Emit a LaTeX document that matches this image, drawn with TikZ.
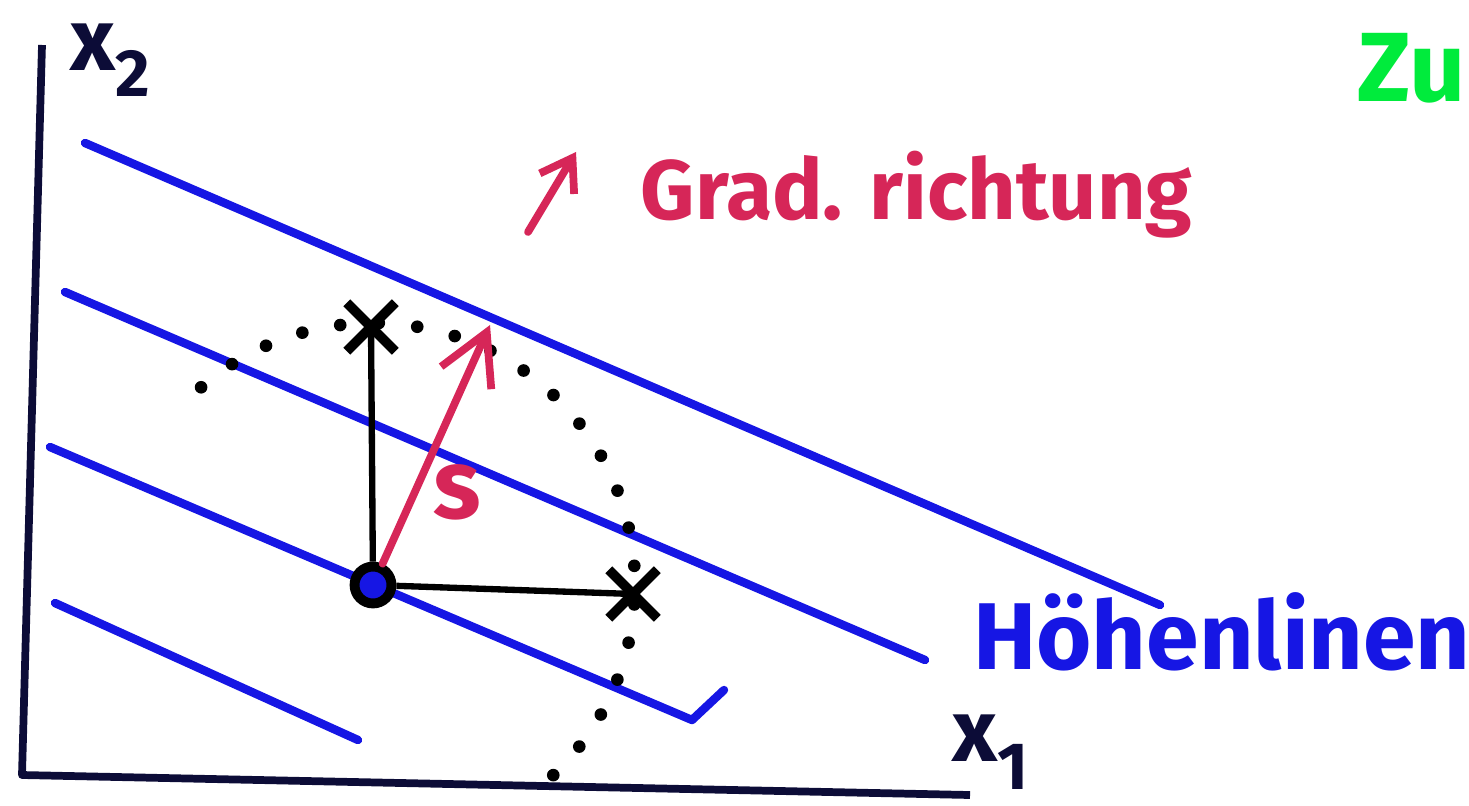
\documentclass[tikz,border=0pt]{standalone}
\usepackage{fontspec}
\setmainfont{Fira Sans}
\usetikzlibrary{shapes.misc,arrows.meta}
\definecolor{hlblau}{RGB}{22,22,228}
\definecolor{gradrot}{RGB}{214,38,88}
\definecolor{achse}{RGB}{12,12,55}
\definecolor{zugruen}{RGB}{0,235,60}
\tikzset{
  hoehenlinie/.style={hlblau, line width=2.4pt, line cap=round},
  kreuz/.style={cross out, draw=black, line width=2.8pt, minimum size=11pt, inner sep=0pt},
  handschrift/.style={font=\fontsize{#1}{#1}\selectfont\bfseries, inner sep=0pt},
  rotpfeil/.style={gradrot, line width=2.2pt, line cap=round,
    -{Straight Barb[length=5mm,width=5.5mm,line width=2.2pt]}},
}
\begin{document}
\begin{tikzpicture}[x=0.1mm,y=-0.1mm]
        \useasboundingbox (0,0) rectangle (1469,805);
        \clip (0,0) rectangle (1469,805);
        % Achsen
        \draw [achse, line width=2.2pt, line join=round] (42,45) -- (22,775) -- (970,795);
        \path (110,60) node [achse, handschrift=25] (xzwei) {x\raisebox{-0.55ex}{\fontsize{19}{19}\selectfont 2}};
        \path (990,752) node [achse, handschrift=25] (xeins) {x\raisebox{-0.6ex}{\fontsize{19}{19}\selectfont 1}};

        % Hoehenlinien
        \draw [hoehenlinie] (85,143) -- (1160,605);
        \draw [hoehenlinie] (65,292) -- (925,660);
        \draw [hoehenlinie, line join=round] (50,447) -- (692,720) -- (724,690);
        \draw [hoehenlinie] (55,603) -- (358,740);
        \path (1222,632) node [hlblau, handschrift=27] (hoehen) {Höhenlinen};

        % Einheitskreis
        \node (O) at (373,585) [circle, draw=black, fill=hlblau, line width=2.8pt, minimum size=10.5pt, inner sep=0pt] {};
        \draw [black, line width=3.6pt, line cap=round, dash pattern=on 0pt off 11pt]
            (O) ++(-131:262) arc [start angle=-131, end angle=48, radius=262];
        \node (ezwei) at (371,327) [kreuz] {};
        \node (eeins) at (633,594) [kreuz] {};
        \draw [black, line width=1.8pt] (O) -- (ezwei.center);
        \draw [black, line width=1.8pt] (O) -- (eeins.center);

        % Suchrichtung
        \coordinate (sspitze) at (490,325);
        \draw [rotpfeil] (O) -- (sspitze) node [pos=0.3, anchor=west, xshift=1.5mm, gradrot, handschrift=28] (s) {s};

        % Legende
        \path (640,150) node [anchor=north west, gradrot, handschrift=24] (gradtext) {Grad. richtung};
        \coordinate (pfeilfuss) at (528,232);
        \coordinate (pfeilkopf) at (576,152);
        \draw [rotpfeil, -{Straight Barb[length=3mm,width=4mm,line width=2.2pt]}] (pfeilfuss) -- (pfeilkopf);
        \path (1466,68) node [anchor=east, zugruen, handschrift=28] (zu) {Zu};
\end{tikzpicture}
\end{document}
